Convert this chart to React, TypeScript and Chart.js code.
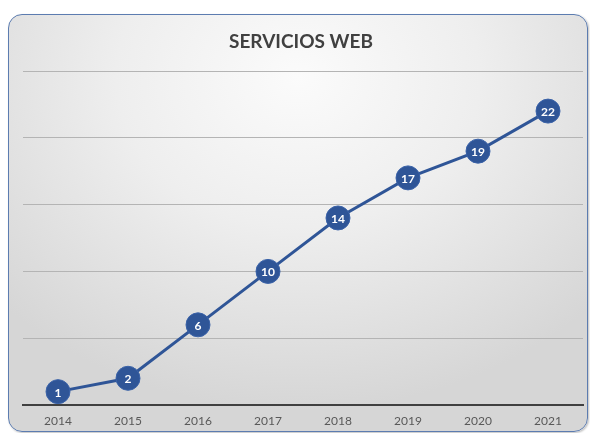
import React, { useEffect, useRef } from "react";
import { Chart, registerables } from "chart.js";

Chart.register(...registerables);

const title = "SERVICIOS WEB";
const years = ["2014", "2015", "2016", "2017", "2018", "2019", "2020", "2021"];
const servicios = [1, 2, 6, 10, 14, 17, 19, 22];
const yMax = 25;
const yStep = 5;

const BLUE = "#2F5597";

const pointLabels = {
  id: "pointLabels",
  afterDatasetsDraw(chart: any) {
    const ctx = chart.ctx;
    const meta = chart.getDatasetMeta(0);
    ctx.save();
    ctx.fillStyle = "#ffffff";
    ctx.font = "bold 12px Lato, 'Open Sans', sans-serif";
    ctx.textAlign = "center";
    ctx.textBaseline = "middle";
    meta.data.forEach((el: any, i: number) => {
      ctx.fillText(String(chart.data.datasets[0].data[i]), el.x, el.y + 1);
    });
    ctx.restore();
  },
};

const titlePlugin = {
  id: "customTitle",
  afterDraw(chart: any) {
    const ctx = chart.ctx;
    ctx.save();
    ctx.fillStyle = "#404040";
    ctx.font = "bold 19px Lato, 'Open Sans', sans-serif";
    ctx.textAlign = "center";
    ctx.textBaseline = "middle";
    ctx.fillText(title, 301, 42);
    ctx.restore();
  },
};

export default function App() {
  const ref = useRef<HTMLCanvasElement>(null);
  useEffect(() => {
    if (!ref.current) return;
    const chart = new Chart(ref.current, {
      type: "line",
      data: {
        labels: years,
        datasets: [
          {
            data: servicios,
            borderColor: BLUE,
            borderWidth: 3,
            backgroundColor: BLUE,
            pointBackgroundColor: BLUE,
            pointBorderColor: "#3a62a8",
            pointBorderWidth: 1,
            pointRadius: 12,
            pointHoverRadius: 12,
            tension: 0,
          },
        ],
      },
      options: {
        animation: false,
        responsive: false,
        maintainAspectRatio: false,
        layout: { padding: { left: 23, right: 7, top: 71, bottom: 0 }, autoPadding: false },
        plugins: {
          legend: { display: false },
          title: { display: false },
          tooltip: { enabled: false },
        },
        scales: {
          x: {
            offset: true,
            grid: { display: false, drawTicks: false, offset: true },
            border: { display: true, color: "#404040", width: 2 },
            ticks: {
              color: "#595959",
              font: { size: 12, family: "Lato, 'Open Sans', sans-serif" },
              padding: 9,
              maxRotation: 0,
            },
            afterFit: (s: any) => {
              s.height = 28;
              s.paddingLeft = 0;
              s.paddingRight = 0;
            },
          },
          y: {
            min: 0,
            max: yMax,
            ticks: { display: false, stepSize: yStep },
            grid: { color: "#b4b4b4", lineWidth: 1, drawTicks: false },
            border: { display: false },
            afterFit: (s: any) => {
              s.width = 0;
            },
          },
        },
      },
      plugins: [pointLabels, titlePlugin],
    });
    return () => chart.destroy();
  }, []);

  return (
    <div style={{ position: "fixed", left: 0, top: 0, width: 590, height: 433, background: "#ffffff", overflow: "hidden" }}>
      <div
        style={{
          position: "absolute",
          left: 8,
          top: 14,
          width: 578,
          height: 416,
          border: "1.5px solid #5c7cb0",
          borderRadius: 14,
          background:
            "radial-gradient(ellipse 70% 80% at 50% 15%, #fbfbfb 0%, #eeeeee 45%, #d6d6d6 100%)",
          boxShadow: "1px 1px 2px rgba(0,0,0,0.25)",
        }}
      />
      <canvas ref={ref} width={590} height={433} style={{ position: "absolute", left: 0, top: 0 }} />
    </div>
  );
}
